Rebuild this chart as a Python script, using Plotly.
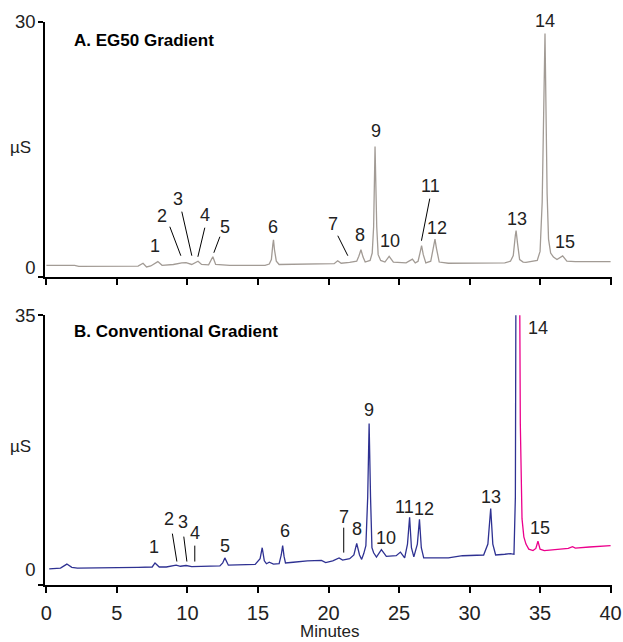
import plotly.graph_objects as go

# ---------------- data (time in minutes, conductivity in µS) ----------------
time_a = [0.0, 2.0, 2.3, 4.0, 6.5, 6.85, 7.1, 7.4, 7.9, 8.2, 9.0, 9.6, 9.9, 10.3,
          10.75, 11.0, 11.5, 11.8, 12.0, 13.0, 15.5, 15.8, 15.95, 16.05, 16.1, 16.17,
          16.3, 16.5, 18.0, 20.0, 20.4, 20.65, 20.9, 21.5, 22.0, 22.15, 22.3, 22.45,
          22.6, 22.95, 23.1, 23.2, 23.3, 23.42, 23.52, 23.7, 24.0, 24.3, 24.6, 25.5,
          25.95, 26.15, 26.35, 26.5, 26.6, 26.72, 26.9, 27.25, 27.45, 27.55, 27.65,
          27.85, 28.5, 32.5, 32.9, 33.1, 33.25, 33.3, 33.4, 33.55, 33.8, 34.0, 34.8,
          35.0, 35.15, 35.35, 35.5, 35.6, 35.75, 35.95, 36.2, 36.6, 36.9, 37.5, 40.0]
signal_a = [0.28, 0.3, 0.18, 0.18, 0.2, 0.55, 0.1, 0.22, 0.75, 0.3, 0.4, 0.6, 0.62, 0.4,
            0.8, 0.4, 0.35, 1.35, 0.4, 0.3, 0.3, 0.45, 1.0, 2.8, 3.4, 2.2,
            0.8, 0.4, 0.45, 0.45, 0.5, 0.85, 0.55, 0.65, 0.8, 1.4, 2.2, 1.3,
            0.7, 0.9, 1.8, 5.0, 14.8, 5.0, 1.6, 0.9, 0.7, 1.4, 0.7, 0.6,
            1.05, 0.6, 0.8, 1.9, 2.7, 1.6, 0.6, 0.8, 2.6, 3.5, 2.4,
            0.7, 0.55, 0.6, 0.8, 1.5, 4.0, 4.55, 3.0, 1.0, 0.7, 0.65, 0.9,
            2.0, 8.0, 28.6, 9.0, 3.5, 1.8, 1.3, 1.0, 1.45, 0.8, 0.75, 0.75]

time_b = [0.2, 1.0, 1.45, 1.8, 2.2, 4.5, 6.5, 7.5, 7.7, 8.0, 8.5, 9.2, 9.5, 9.9, 10.3,
          12.3, 12.5, 12.65, 12.8, 12.9, 14.8, 15.15, 15.3, 15.45, 15.6, 15.8, 16.1,
          16.5, 16.65, 16.75, 16.85, 16.95, 17.5, 18.5, 19.5, 19.8, 20.3, 20.75, 21.0,
          21.5, 21.8, 22.0, 22.2, 22.35, 22.5, 22.65, 22.78, 22.88, 22.98, 23.08, 23.2,
          23.4, 23.75, 24.1, 24.8, 25.1, 25.4, 25.6, 25.75, 25.88, 26.05, 26.3, 26.45,
          26.58, 26.75, 28.5, 29.5, 31.0, 31.3, 31.5, 31.65, 31.85, 32.5, 32.9, 33.15,
          33.25, 33.33]
signal_b = [0.1, 0.2, 0.75, 0.3, 0.2, 0.2, 0.3, 0.35, 0.9, 0.35, 0.35, 0.6, 0.45, 0.55, 0.4,
            0.5, 0.9, 1.6, 0.9, 0.6, 0.7, 1.5, 3.0, 1.2, 0.8, 1.0, 0.75,
            0.8, 2.0, 3.3, 1.8, 0.9, 1.0, 1.2, 1.25, 0.95, 1.2, 1.6, 1.3,
            1.5, 2.0, 3.6, 2.0, 1.4, 2.2, 3.3, 10.0, 20.1, 10.0, 3.0, 2.3,
            1.7, 2.75, 1.8, 1.9, 2.4, 1.6, 3.5, 7.2, 3.0, 1.75, 3.5, 6.9,
            3.0, 1.6, 1.6, 1.9, 2.0, 3.5, 8.4, 3.5, 2.0, 2.1, 2.2, 2.1,
            10.0, 70.0]

time_b_tail = [33.48, 33.6, 33.72, 33.85, 34.0, 34.2, 34.5, 34.7, 34.85, 35.0, 35.3,
               36.0, 37.0, 37.3, 37.5, 38.5, 40.0]
signal_b_tail = [70.0, 20.0, 7.0, 4.5, 3.5, 2.8, 2.6, 2.9, 3.9, 2.8, 2.6,
                 2.7, 2.9, 3.15, 2.95, 3.1, 3.3]

peak_labels = [str(i) for i in range(1, 16)]
x_ticks = [0, 5, 10, 15, 20, 25, 30, 35, 40]

# ---------------- label placement ----------------
lab_a_x = [7.69, 8.19, 9.32, 11.23, 12.65, 16.05, 20.30, 22.22, 23.35, 24.35,
           27.25, 27.68, 33.35, 35.33, 36.75]
lab_a_y = [2.69, 6.36, 8.44, 6.48, 5.01, 5.01, 5.38, 4.03, 16.75, 3.30,
           10.02, 4.89, 5.99, 28.7, 3.20]
lab_a_shift = [0, 0, 0, 0, 0, 0, 0, 0, 0, 0, 0, 0, 0, 12, 0]
lead_a = [(8.75, 5.01, 9.53, 1.47), (9.60, 6.85, 10.31, 1.47), (11.23, 4.89, 10.74, 1.34),
          (12.30, 3.79, 11.87, 1.83), (20.66, 3.91, 21.37, 1.47), (27.18, 8.44, 26.59, 3.30)]

lab_b_x = [7.62, 8.68, 9.67, 10.52, 12.65, 16.90, 21.08, 22.0, 22.85, 24.06,
           25.37, 26.79, 31.5, 34.83, 34.97]
lab_b_y = [3.16, 7.00, 6.58, 5.08, 3.29, 5.35, 7.27, 5.62, 21.95, 4.39,
           8.64, 8.37, 10.0, 33.2, 5.76]
lead_b = [(8.93, 4.94, 9.25, 1.10), (9.74, 4.53, 9.96, 1.10), (10.52, 3.29, 10.52, 1.10),
          (21.08, 5.76, 21.08, 2.33)]

FONT = "Liberation Sans, Arial, Helvetica, sans-serif"
TXT = "#222222"
GRAY = "#a29b95"
BLUE = "#2e3192"
PINK = "#ec008c"

fig = go.Figure()
fig.add_trace(go.Scatter(x=time_a, y=signal_a, mode="lines", line=dict(color=GRAY, width=1.3),
                         xaxis="x", yaxis="y", showlegend=False, hoverinfo="skip"))
fig.add_trace(go.Scatter(x=time_b, y=signal_b, mode="lines", line=dict(color=BLUE, width=1.3),
                         xaxis="x2", yaxis="y2", showlegend=False, hoverinfo="skip"))
fig.add_trace(go.Scatter(x=time_b_tail, y=signal_b_tail, mode="lines", line=dict(color=PINK, width=1.3),
                         xaxis="x2", yaxis="y2", showlegend=False, hoverinfo="skip"))

annotations = []
for t, x, y, s in zip(peak_labels, lab_a_x, lab_a_y, lab_a_shift):
    annotations.append(dict(text=t, x=x, y=y, xref="x", yref="y", showarrow=False,
                            yshift=s, font=dict(size=18, color=TXT, family=FONT)))
for t, x, y in zip(peak_labels, lab_b_x, lab_b_y):
    annotations.append(dict(text=t, x=x, y=y, xref="x2", yref="y2", showarrow=False,
                            font=dict(size=18, color=TXT, family=FONT)))

TOP_DOM = [0.5466, 1.0]
BOT_DOM = [0.0, 0.4791]
annotations += [
    dict(text="<b>A. EG50 Gradient</b>", x=0.0476, y=0.9663, xref="paper", yref="paper",
         xanchor="left", yanchor="middle", showarrow=False, font=dict(size=17, color="black", family=FONT)),
    dict(text="<b>B. Conventional Gradient</b>", x=0.0476, y=0.4504, xref="paper", yref="paper",
         xanchor="left", yanchor="middle", showarrow=False, font=dict(size=17, color="black", family=FONT)),
    dict(text="µS", x=-0.044, y=0.7764, xref="paper", yref="paper", xanchor="center",
         yanchor="middle", showarrow=False, font=dict(size=17, color=TXT, family=FONT)),
    dict(text="µS", x=-0.044, y=0.2458, xref="paper", yref="paper", xanchor="center",
         yanchor="middle", showarrow=False, font=dict(size=17, color=TXT, family=FONT)),
    dict(text="Minutes", x=0.5018, y=-0.0825, xref="paper", yref="paper", xanchor="center",
         yanchor="middle", showarrow=False, font=dict(size=17, color=TXT, family=FONT)),
]

shapes = []
for (x0, y0, x1, y1) in lead_a:
    shapes.append(dict(type="line", x0=x0, y0=y0, x1=x1, y1=y1, xref="x", yref="y",
                       line=dict(color="black", width=1)))
for (x0, y0, x1, y1) in lead_b:
    shapes.append(dict(type="line", x0=x0, y0=y0, x1=x1, y1=y1, xref="x2", yref="y2",
                       line=dict(color="black", width=1)))

common_x = dict(range=[-0.1, 40.1], tickmode="array", tickvals=x_ticks, ticks="outside",
                ticklen=6, tickwidth=1.5, tickcolor="black", showline=True, linecolor="black",
                linewidth=1.5, showgrid=False, zeroline=False, fixedrange=True, automargin=False)

common_y = dict(ticks="", showline=True, linecolor="black", linewidth=1.5, showgrid=False,
                zeroline=False, tickfont=dict(size=18.5, family=FONT, color=TXT),
                ticklabelstandoff=4, fixedrange=True, automargin=False, tickmode="array")

fig.update_layout(
    width=623, height=642,
    margin=dict(l=45, r=11, t=22, b=56.5),
    paper_bgcolor="white", plot_bgcolor="white",
    font=dict(family=FONT, size=18, color=TXT),
    xaxis=dict(**common_x, domain=[0, 1], anchor="y", showticklabels=False),
    xaxis2=dict(**common_x, domain=[0, 1], anchor="y2", showticklabels=True,
                ticklabelstandoff=3, tickfont=dict(size=20, family=FONT, color=TXT)),
    yaxis=dict(**common_y, domain=TOP_DOM, anchor="x", range=[-1.16, 30], tickvals=[0, 30],
               minor=dict(tickmode="array", tickvals=[-1.15, 30], ticks="outside", ticklen=5,
                          tickwidth=1.5, tickcolor="black", showgrid=False)),
    yaxis2=dict(**common_y, domain=BOT_DOM, anchor="x2", range=[-2.13, 35], tickvals=[0, 35],
                minor=dict(tickmode="array", tickvals=[-2.12, 35], ticks="outside", ticklen=5,
                           tickwidth=1.5, tickcolor="black", showgrid=False)),
    annotations=annotations,
    shapes=shapes,
)

fig.write_html("out.html", config={"displayModeBar": False})
